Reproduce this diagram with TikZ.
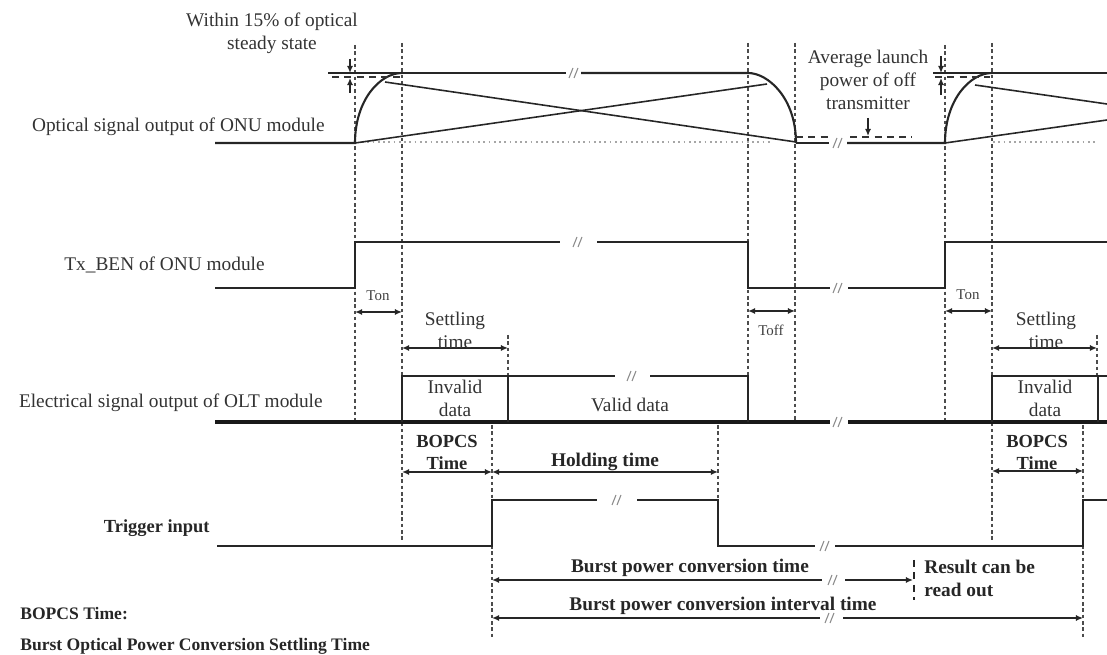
\documentclass[tikz,border=0pt]{standalone}
\usepackage{fontspec}
\setmainfont{Liberation Serif}
\usetikzlibrary{arrows.meta}
\newcommand{\brkmark}[2]{\draw[brk] ({#1-5},{#2+5}) -- ({#1-1},{#2-5}) ({#1},{#2+5}) -- ({#1+4},{#2-5});}
\begin{document}
\begin{tikzpicture}[x=0.02cm,y=-0.02cm,
  sig/.style={line width=1.2pt, draw=black!85},
  thin sig/.style={line width=0.9pt, draw=black!85},
  base/.style={line width=2pt, draw=black!90},
  vdash/.style={draw=black!70, line width=0.8pt, dash pattern=on 2pt off 1.6pt},
  hdash/.style={draw=black!80, line width=1pt, dash pattern=on 4pt off 3pt},
  dotbase/.style={draw=black!35, line width=0.8pt, dash pattern=on 1pt off 2pt},
  brk/.style={draw=black!45, line width=0.6pt},
  dimarr/.style={{Latex[length=4pt,width=3.5pt]}-{Latex[length=4pt,width=3.5pt]}, line width=0.9pt, draw=black!85},
  larr/.style={{Latex[length=4pt,width=3.5pt]}-, line width=0.9pt, draw=black!85},
  rarr/.style={-{Latex[length=4pt,width=3.5pt]}, line width=0.9pt, draw=black!85},
  lbl/.style={font=\fontsize{11}{13}\selectfont, text=black!80, inner sep=0pt, align=center},
  blbl/.style={font=\fontsize{11}{13}\selectfont\bfseries, text=black!85, inner sep=0pt, align=center},
  slbl/.style={font=\fontsize{8.5}{10}\selectfont, text=black!75, inner sep=0pt, align=center},
  fn/.style={font=\fontsize{10}{12}\selectfont\bfseries, text=black!85, inner sep=0pt, anchor=west}
]
\useasboundingbox (0,0) rectangle (1107,655);

% ---------- vertical dashed time markers ----------
\draw[vdash] (355,45) -- (355,422);
\draw[vdash] (402,43) -- (402,540);
\draw[vdash] (748,43) -- (748,422);
\draw[vdash] (795,43) -- (795,422);
\draw[vdash] (945,45) -- (945,422);
\draw[vdash] (992,43) -- (992,540);
\draw[vdash] (508,335) -- (508,422);
\draw[vdash] (1097,335) -- (1097,376);
\draw[vdash] (492,425) -- (492,637);
\draw[vdash] (718,425) -- (718,500);
\draw[vdash] (1083,425) -- (1083,637);

% ---------- optical signal ----------
\draw[dotbase] (362,142) -- (770,142);
\draw[dotbase] (993,142) -- (1097,142);
\draw[sig] (215,143) -- (355,143) .. controls (355,100) and (380,73) .. (402,73);
\draw[sig] (328,73) -- (566,73);
\draw[sig] (581,73) -- (748,73) .. controls (768,73) and (796,98) .. (796,143);
\brkmark{574}{73}
\draw[hdash] (332,77) -- (400,77);
\draw[rarr] (350,59) -- (350,73);
\draw[rarr] (350,93) -- (350,78);
\draw[thin sig] (355,143) -- (767,84);
\draw[thin sig] (385,82) -- (796,142);
\draw[sig] (796,143) -- (829,143);
\draw[sig] (847,143) -- (945,143) .. controls (945,100) and (970,73) .. (992,73);
\brkmark{838}{143}
\draw[hdash] (796,137) -- (828,137);
\draw[hdash] (850,137) -- (912,137);
\draw[rarr] (868,118) -- (868,136);
\draw[sig] (933,73) -- (1107,73);
\draw[hdash] (935,77) -- (990,77);
\draw[rarr] (941,56) -- (941,73);
\draw[rarr] (941,95) -- (941,78);
\draw[thin sig] (945,143) -- (1107,120);
\draw[thin sig] (975,85) -- (1107,104);

\node[lbl] (within) at (272,33) {Within 15\% of optical\\steady state};
\node[lbl] (avg) at (868,80) {Average launch\\power of off\\transmitter};
\node[lbl, anchor=east] (optlbl) at (325,127) {Optical signal output of ONU module};

% ---------- Tx_BEN ----------
\draw[sig] (215,288) -- (355,288) -- (355,242) -- (560,242);
\draw[sig] (597,242) -- (748,242) -- (748,288) -- (830,288);
\draw[sig] (848,288) -- (945,288) -- (945,242) -- (1107,242);
\brkmark{578}{242}
\brkmark{838}{288}
\node[lbl, anchor=east] (txlbl) at (265,265) {Tx\_BEN of ONU module};

\draw[dimarr] (355,312) -- (402,312);
\node[slbl] (ton1) at (378,296) {Ton};
\draw[dimarr] (748,311) -- (795,311);
\node[slbl] (toff) at (771,330) {Toff};
\draw[dimarr] (945,311) -- (992,311);
\node[slbl] (ton2) at (968,295) {Ton};

\draw[dimarr] (402,348) -- (508,348);
\node[lbl] (set1) at (455,330) {Settling\\time};
\draw[dimarr] (992,348) -- (1097,348);
\node[lbl] (set2) at (1046,330) {Settling\\time};

% ---------- OLT electrical ----------
\draw[base] (215,422) -- (830,422);
\draw[base] (848,422) -- (1107,422);
\brkmark{838}{422}
\draw[sig] (402,422) -- (402,376) -- (615,376);
\draw[sig] (650,376) -- (748,376) -- (748,422);
\draw[sig] (508,376) -- (508,422);
\brkmark{632}{376}
\draw[sig] (992,422) -- (992,376) -- (1107,376);
\draw[sig] (1098,376) -- (1098,422);
\node[lbl] (inv1) at (455,398) {Invalid\\data};
\node[lbl] (valid) at (630,405) {Valid data};
\node[lbl] (inv2) at (1045,398) {Invalid\\data};
\node[lbl, anchor=east] (oltlbl) at (323,403) {Electrical signal output of OLT module};

% ---------- BOPCS / holding ----------
\draw[dimarr] (402,472) -- (492,472);
\node[blbl, font=\fontsize{10.5}{12.5}\selectfont\bfseries] (bop1) at (447,452) {BOPCS\\Time};
\draw[dimarr] (492,472) -- (718,472);
\node[blbl] (hold) at (605,462) {Holding time};
\draw[dimarr] (992,471) -- (1083,471);
\node[blbl, font=\fontsize{10.5}{12.5}\selectfont\bfseries] (bop2) at (1037,452) {BOPCS\\Time};

% ---------- Trigger ----------
\draw[sig] (217,546) -- (492,546) -- (492,500) -- (597,500);
\draw[sig] (637,500) -- (718,500) -- (718,546) -- (815,546);
\draw[sig] (835,546) -- (1083,546) -- (1083,500) -- (1107,500);
\brkmark{617}{500}
\brkmark{825}{546}
\node[blbl, anchor=east, font=\fontsize{10.5}{12.5}\selectfont\bfseries] (trig) at (210,528) {Trigger input};

% ---------- burst power conversion ----------
\draw[larr] (492,580) -- (822,580);
\draw[rarr] (845,580) -- (913,580);
\brkmark{833}{580}
\draw[black!85, line width=1pt, dash pattern=on 4pt off 3pt] (914,560) -- (914,600);
\node[blbl] (bpct) at (690,568) {Burst power conversion time};
\node[blbl, anchor=west, align=left] (res) at (924,578) {Result can be\\read out};
\draw[larr] (492,618) -- (820,618);
\draw[rarr] (843,618) -- (1083,618);
\brkmark{830}{618}
\node[blbl] (bpci) at (723,606) {Burst power conversion interval time};

% ---------- footnote ----------
\node[fn] (fn1) at (20,614) {BOPCS Time:};
\node[fn] (fn2) at (20,646) {Burst Optical Power Conversion Settling Time};
\end{tikzpicture}
\end{document}
